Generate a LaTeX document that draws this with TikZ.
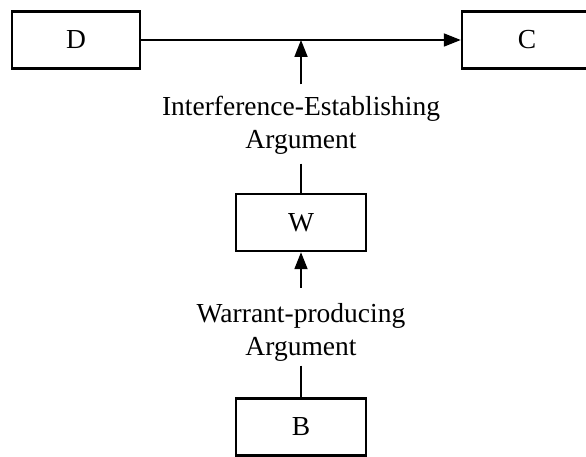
\documentclass[tikz,border=0pt]{standalone}
\usepackage{fontspec}
\setmainfont{Liberation Serif}
\usetikzlibrary{arrows.meta}
\begin{document}
\begin{tikzpicture}[x=1pt,y=-1pt,
  txt/.style={font=\fontsize{27.5}{33}\selectfont},
  box/.style={draw,line width=2.4pt,inner sep=0pt,minimum width=#1,minimum height=57pt,txt},
  box/.default=128pt,
  lab/.style={txt,align=center,inner sep=0pt},
  conn/.style={line width=1.8pt},
  arr/.style={conn,-{Triangle[length=17pt,width=13pt]}}]
\useasboundingbox (0,0) rectangle (586,457);
\node[box=128pt] (D) at (76,40) {D};
\node[box=130pt] (C) at (527,40) {C};
\node[box=130pt] (W) at (301,222.5) {W};
\node[box=130pt] (B) at (301,427) {B};
\node[lab] (IEA) at (301,125) {Interference-Establishing\\Argument};
\node[lab] (WPA) at (301,332.75) {Warrant-producing\\Argument};
\coordinate (M) at (D.east -| W);
\draw[arr] (D) -- (C);
\draw[arr,shorten <=11.3pt] (IEA.north) -- (M);
\draw[conn,shorten <=9.4pt] (IEA.south) -- (W.north);
\draw[arr,shorten <=16pt] (WPA.north) -- (W.south);
\draw[conn,shorten <=3.6pt] (WPA.south) -- (B.north);
\end{tikzpicture}
\end{document}
